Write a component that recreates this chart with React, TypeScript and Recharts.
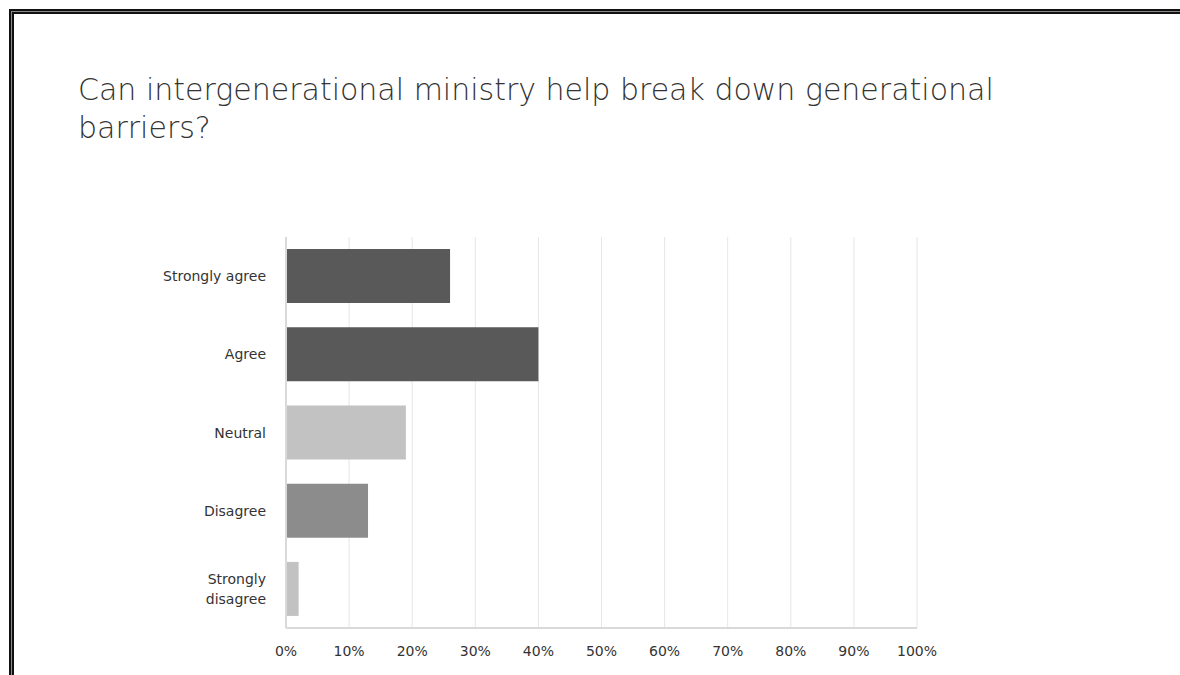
import React from "react";
import { BarChart, Bar, XAxis, YAxis, CartesianGrid, Cell } from "recharts";

const categories = ["Strongly agree", "Agree", "Neutral", "Disagree", "Strongly disagree"];
const values = [26, 40, 19, 13, 2];
const barColors = ["#595959", "#595959", "#c2c2c2", "#8c8c8c", "#c2c2c2"];
const xTicks = [0, 10, 20, 30, 40, 50, 60, 70, 80, 90, 100];
const titleText = "Can intergenerational ministry help break down generational barriers?";

const data = categories.map((c, i) => ({ name: c, value: values[i] }));

const FONT = "'DejaVu Sans', 'Open Sans', sans-serif";

const YTick = (props: any) => {
  const { x, y, payload } = props;
  const label: string = payload.value;
  const words = label === "Strongly disagree" ? ["Strongly", "disagree"] : [label];
  const lh = 20;
  const startY = y - ((words.length - 1) * lh) / 2;
  return (
    <text x={x} y={startY} textAnchor="end" fill="#333" fontSize={14} fontFamily={FONT} dominantBaseline="central">
      {words.map((w, i) => (
        <tspan key={i} x={x} dy={i === 0 ? 0 : lh}>
          {w}
        </tspan>
      ))}
    </text>
  );
};

export default function App() {
  return (
    <div style={{ position: "absolute", left: 0, top: 0, width: 1180, height: 675, background: "#fff", overflow: "hidden" }}>
      <div style={{ position: "absolute", left: 9, top: 9, width: 1200, height: 700, borderTop: "5px solid #111", borderLeft: "5px solid #111" }} />
      <div style={{ position: "absolute", left: 11, top: 11, width: 1200, height: 700, borderTop: "1px solid #888", borderLeft: "1px solid #888" }} />
      <div
        style={{
          position: "absolute",
          left: 78,
          top: 71,
          width: 960,
          fontFamily: FONT,
          fontWeight: 300,
          fontSize: 30,
          lineHeight: "38px",
          color: "#333",
        }}
      >
        {titleText}
      </div>
      <div style={{ position: "absolute", left: 0, top: 0 }}>
        <BarChart
          width={1180}
          height={675}
          data={data}
          layout="vertical"
          margin={{ top: 237, right: 263, bottom: 17, left: 0 }}
          barCategoryGap="15.5%"
        >
          <CartesianGrid horizontal={false} vertical={true} stroke="#e6e6e6" />
          <XAxis
            type="number"
            domain={[0, 100]}
            ticks={xTicks}
            tickFormatter={(v: number) => `${v}%`}
            axisLine={{ stroke: "#d9d9d9", strokeWidth: 2 }}
            tickLine={false}
            height={30}
            tick={{ fill: "#333", fontSize: 14, fontFamily: FONT }}
            tickMargin={12}
          />
          <YAxis
            type="category"
            dataKey="name"
            width={286}
            axisLine={{ stroke: "#d9d9d9", strokeWidth: 2 }}
            tickLine={false}
            tick={<YTick />}
            tickMargin={14}
          />
          <Bar dataKey="value" isAnimationActive={false}>
            {data.map((d, i) => (
              <Cell key={d.name} fill={barColors[i]} />
            ))}
          </Bar>
        </BarChart>
      </div>
    </div>
  );
}
